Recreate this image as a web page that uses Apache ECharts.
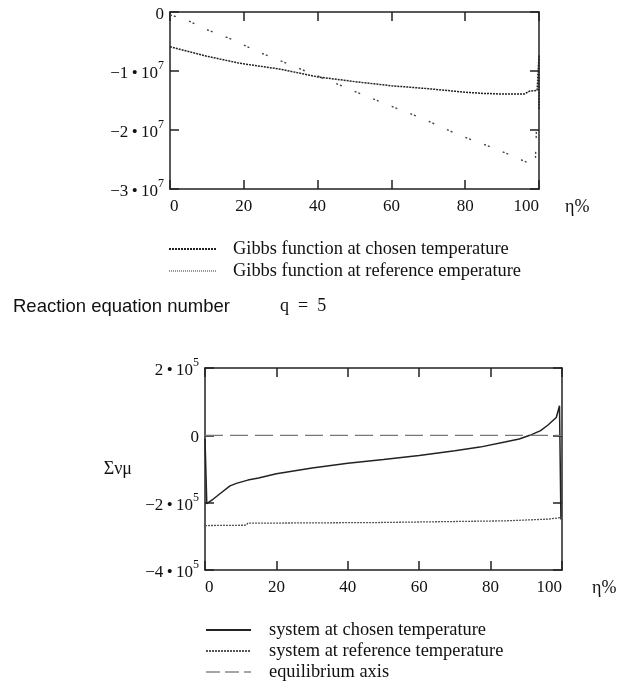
<!DOCTYPE html>
<html>
<head>
<meta charset="utf-8">
<script src="https://cdn.jsdelivr.net/npm/echarts@6/dist/echarts.min.js"></script>
<style>
html,body{margin:0;padding:0;background:#fff;}
#chart{width:622px;height:686px;}
</style>
</head>
<body>
<div id="chart"></div>
<script>
// ---------- data: upper chart (Gibbs function vs reaction progress) ----------
var gibbsChosenEta = [0, 10, 19, 30, 40, 50, 60, 70, 80, 85, 90, 96, 97.5, 99.5, 100, 100];
var gibbsChosenVal = [-0.59e7, -0.75e7, -0.87e7, -0.97e7, -1.10e7, -1.18e7, -1.25e7, -1.30e7, -1.36e7, -1.38e7, -1.39e7, -1.39e7, -1.34e7, -1.33e7, -0.73e7, -1.66e7];
var gibbsRefEta = [0, 4, 10, 17, 24, 28.5, 35.5, 46.5, 52.5, 58.5, 65, 70, 76, 80.6, 87, 91.7, 96.8, 99, 99.3];
var gibbsRefVal = [-0.05e7, -0.12e7, -0.30e7, -0.47e7, -0.68e7, -0.79e7, -0.97e7, -1.25e7, -1.41e7, -1.56e7, -1.72e7, -1.85e7, -2.02e7, -2.14e7, -2.29e7, -2.41e7, -2.55e7, -2.56e7, -2.0e7];

// ---------- data: lower chart (sum of nu*mu) ----------
var sysChosenEta = [0, 0.5, 2, 4, 7, 9, 12, 15, 20, 30, 40, 50, 60, 70, 77, 84, 88, 91, 94, 96, 98.4, 99.3, 99.7];
var sysChosenVal = [-0.1e5, -2.03e5, -1.92e5, -1.75e5, -1.50e5, -1.42e5, -1.33e5, -1.27e5, -1.14e5, -0.97e5, -0.83e5, -0.72e5, -0.60e5, -0.46e5, -0.35e5, -0.20e5, -0.11e5, 0, 0.14e5, 0.30e5, 0.53e5, 0.88e5, -2.5e5];
var sysRefEta = [0, 11.5, 12, 48.5, 49, 84, 84.5, 96, 96.5, 100];
var sysRefVal = [-2.68e5, -2.67e5, -2.61e5, -2.59e5, -2.56e5, -2.54e5, -2.50e5, -2.49e5, -2.45e5, -2.44e5];
var equilEta = [0, 100];
var equilVal = [0, 0];

// ---------- tick labels ----------
var etaTicks = [0, 20, 40, 60, 80, 100];
var topYTicks = [0, -1e7, -2e7, -3e7];
var topYMant = ['0', '\u22121\u2009\u2022\u200910', '\u22122\u2009\u2022\u200910', '\u22123\u2009\u2022\u200910'];
var topYExp = ['', '7', '7', '7'];
var botYTicks = [2e5, 0, -2e5, -4e5];
var botYMant = ['2\u2009\u2022\u200910', '0', '\u22122\u2009\u2022\u200910', '\u22124\u2009\u2022\u200910'];
var botYExp = ['5', '', '5', '5'];

var names = {
  g1: 'Gibbs function at chosen temperature',
  g2: 'Gibbs function at reference emperature',
  s1: 'system at chosen temperature',
  s2: 'system at reference temperature',
  s3: 'equilibrium axis'
};

function pairs(xs, ys) { return xs.map(function (x, i) { return [x, ys[i]]; }); }
function yFmt(ticks, mant, exp) {
  return function (v) {
    for (var i = 0; i < ticks.length; i++) {
      if (Math.abs(ticks[i] - v) < 1e-6 * Math.max(1, Math.abs(v))) {
        return exp[i] ? '{m|' + mant[i] + '}{s|' + exp[i] + '}' : '{m|' + mant[i] + '}';
      }
    }
    return '';
  };
}
var SERIF = 'Liberation Serif';
var rich = {
  m: { fontFamily: SERIF, fontSize: 17, color: '#111', lineHeight: 22, verticalAlign: 'bottom' },
  s: { fontFamily: SERIF, fontSize: 12, color: '#111', lineHeight: 12, verticalAlign: 'top' }
};
var boxLine = { show: true, onZero: false, lineStyle: { color: '#222', width: 1.5 } };
var tickIn = { show: true, inside: true, length: 9, lineStyle: { color: '#222', width: 1.5 } };

function xAx(grid, pos, showLabel) {
  return {
    type: 'value', gridIndex: grid, position: pos, min: 0, max: 100, interval: 20,
    axisLine: boxLine, axisTick: tickIn, splitLine: { show: false },
    axisLabel: {
      show: showLabel, margin: 9, fontFamily: SERIF, fontSize: 17, color: '#111',
      alignMinLabel: 'left', alignMaxLabel: 'right',
      formatter: function (v) { return etaTicks.indexOf(v) >= 0 ? String(v) : ''; }
    },
    name: showLabel ? '\u03b7%' : '', nameLocation: 'end', nameGap: grid === 0 ? 26 : 30,
    nameTextStyle: { fontFamily: SERIF, fontSize: 18, color: '#111', align: 'left', verticalAlign: 'top', padding: [9, 0, 0, 0] }
  };
}
function yAx(grid, pos, showLabel, min, max, interval, fmt) {
  return {
    type: 'value', gridIndex: grid, position: pos, min: min, max: max, interval: interval,
    axisLine: boxLine, axisTick: tickIn, splitLine: { show: false },
    axisLabel: { show: showLabel, margin: 6, formatter: fmt, rich: rich }
  };
}

var chart = echarts.init(document.getElementById('chart'));
var yBotLeft = yAx(1, 'left', true, -4e5, 2e5, 2e5, yFmt(botYTicks, botYMant, botYExp));
yBotLeft.name = '\u03a3\u03bd\u03bc';
yBotLeft.nameLocation = 'middle';
yBotLeft.nameRotate = 0;
yBotLeft.nameGap = 73;
yBotLeft.nameTextStyle = { fontFamily: SERIF, fontSize: 18, color: '#111', align: 'right', verticalAlign: 'middle', padding: [14, 0, 0, 0] };

var legendCommon = {
  orient: 'vertical', padding: 0, itemHeight: 10,
  itemStyle: { opacity: 0 },
  textStyle: { fontFamily: SERIF, fontSize: 18.4, color: '#111', lineHeight: 18 }
};

chart.setOption({
  animation: false,
  backgroundColor: '#fff',
  grid: [
    { left: 170, top: 12, width: 369, height: 177 },
    { left: 205, top: 368, width: 357, height: 202 }
  ],
  xAxis: [xAx(0, 'bottom', true), xAx(0, 'top', false), xAx(1, 'bottom', true), xAx(1, 'top', false)],
  yAxis: [
    yAx(0, 'left', true, -3e7, 0, 1e7, yFmt(topYTicks, topYMant, topYExp)),
    yAx(0, 'right', false, -3e7, 0, 1e7),
    yBotLeft,
    yAx(1, 'right', false, -4e5, 2e5, 2e5)
  ],
  legend: [
    Object.assign({}, legendCommon, {
      data: [
        { name: names.g1 },
        { name: names.g2, lineStyle: { color: '#777', width: 1.3, type: [1, 1] } }
      ],
      left: 168, top: 240, itemWidth: 47, itemGap: 4,
      textStyle: Object.assign({}, legendCommon.textStyle, { padding: [0, 0, 0, 12] })
    }),
    Object.assign({}, legendCommon, {
      data: [
        { name: names.s1 },
        { name: names.s2 },
        { name: names.s3, lineStyle: { color: '#888', width: 1.3, type: [14, 5] } }
      ],
      left: 205, top: 621, itemWidth: 45, itemGap: 3,
      textStyle: Object.assign({}, legendCommon.textStyle, { padding: [0, 0, 0, 13] })
    })
  ],
  graphic: [
    { type: 'text', left: 13, top: 297, style: { text: 'Reaction equation number', fontFamily: 'Liberation Sans', fontSize: 18.5, fill: '#111' } },
    { type: 'text', left: 280, top: 297, style: { text: 'q  =  5', fontFamily: SERIF, fontSize: 18, fill: '#111' } }
  ],
  series: [
    { name: names.g1, type: 'line', xAxisIndex: 0, yAxisIndex: 0, symbol: 'none', data: pairs(gibbsChosenEta, gibbsChosenVal),
      itemStyle: { color: '#222' }, lineStyle: { color: '#222', width: 1.5, type: [2, 1] } },
    { name: names.g2, type: 'line', xAxisIndex: 0, yAxisIndex: 0, symbol: 'none', data: pairs(gibbsRefEta, gibbsRefVal),
      itemStyle: { color: '#444' }, lineStyle: { color: '#444', width: 1.4, type: [2, 2, 2, 14] } },
    { name: names.s1, type: 'line', xAxisIndex: 2, yAxisIndex: 2, symbol: 'none', data: pairs(sysChosenEta, sysChosenVal),
      itemStyle: { color: '#222' }, lineStyle: { color: '#222', width: 1.5 } },
    { name: names.s2, type: 'line', xAxisIndex: 2, yAxisIndex: 2, symbol: 'none', data: pairs(sysRefEta, sysRefVal),
      itemStyle: { color: '#555' }, lineStyle: { color: '#555', width: 1.3, type: [2, 1] } },
    { name: names.s3, type: 'line', xAxisIndex: 2, yAxisIndex: 2, symbol: 'none', data: pairs(equilEta, equilVal),
      itemStyle: { color: '#777' }, lineStyle: { color: '#777', width: 1.3, type: [18, 7] } }
  ]
});
</script>
</body>
</html>
